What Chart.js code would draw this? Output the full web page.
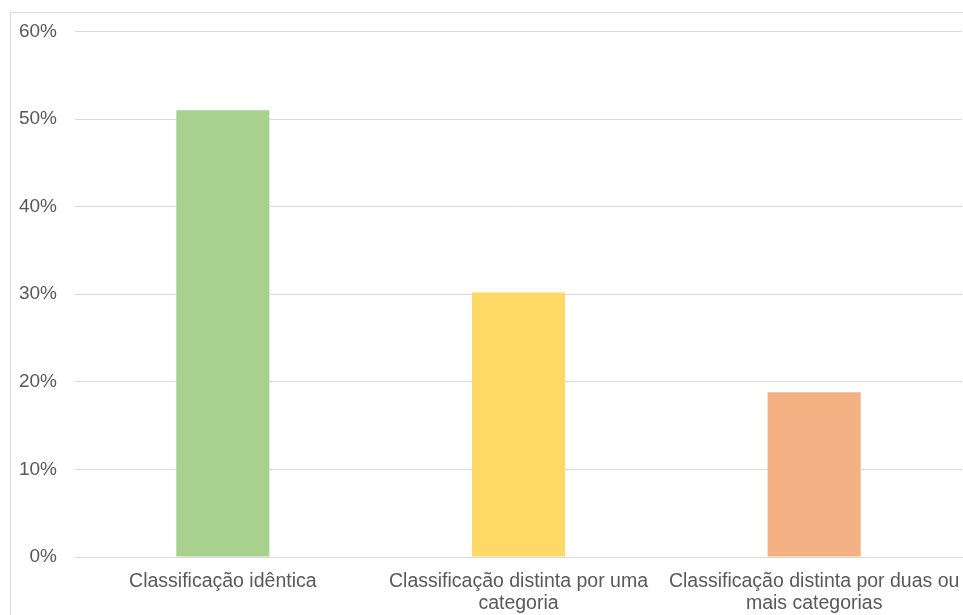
<!DOCTYPE html>
<html>
<head>
<meta charset="utf-8">
<script src="https://cdn.jsdelivr.net/npm/chart.js@4.4.1/dist/chart.umd.min.js"></script>
<style>
  html, body { margin: 0; padding: 0; background: #ffffff; overflow: hidden; }
  #frame {
    position: absolute; left: 10px; top: 12px; width: 1000px; height: 700px;
    border: 1px solid #d9d9d9; box-sizing: border-box;
  }
  #wrap { position: absolute; left: 0; top: 0; width: 963px; height: 615px; }
</style>
</head>
<body>
<div id="frame"></div>
<div id="wrap"><canvas id="chart" width="963" height="615"></canvas></div>
<script>
// Categories (multi-line labels) and their shares
const categories = [
  "Classificação idêntica",
  ["Classificação distinta por uma", "categoria"],
  ["Classificação distinta por duas ou", "mais categorias"]
];
const shares = [51.0, 30.2, 18.8];
const barColors = ["#a9d18e", "#ffd966", "#f4b183"];
const yTicks = [0, 10, 20, 30, 40, 50, 60];

const ctx = document.getElementById("chart").getContext("2d");
new Chart(ctx, {
  type: "bar",
  data: {
    labels: categories,
    datasets: [{
      data: shares,
      backgroundColor: barColors,
      borderWidth: 0,
      barPercentage: 0.63,
      categoryPercentage: 0.5
    }]
  },
  options: {
    responsive: false,
    animation: false,
    layout: { padding: { left: 10, right: 1, top: 31.5, bottom: 0 } },
    plugins: { legend: { display: false }, tooltip: { enabled: false } },
    scales: {
      y: {
        min: 0, max: 60,
        afterBuildTicks: (s) => { s.ticks = yTicks.map(v => ({ value: v })); },
        afterFit: (s) => { s.width = 65; },
        grid: { color: "#d9d9d9", lineWidth: 1, drawTicks: false },
        border: { display: false },
        ticks: {
          padding: 18,
          color: "#595959",
          font: { family: "Liberation Sans, Arial, sans-serif", size: 19 },
          callback: (v) => v + "%"
        }
      },
      x: {
        afterFit: (s) => { s.height = 58; s.paddingLeft = 0; s.paddingRight = 0; },
        grid: { display: false, drawTicks: false },
        border: { display: true, color: "#d9d9d9" },
        ticks: {
          padding: 14,
          maxRotation: 0,
          autoSkip: false,
          color: "#595959",
          font: { family: "Liberation Sans, Arial, sans-serif", size: 19.5, lineHeight: 1.13 }
        }
      }
    }
  }
});
</script>
</body>
</html>
